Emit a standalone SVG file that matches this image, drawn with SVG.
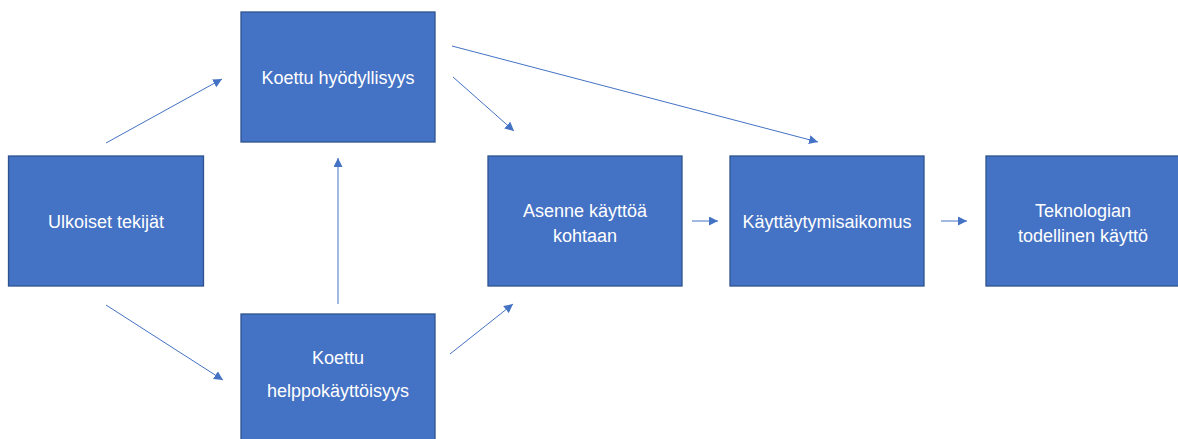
<svg xmlns="http://www.w3.org/2000/svg" width="1178" height="439" viewBox="0 0 1178 439">
  <style>
    .box { fill: #4472C4; stroke: #2F528F; stroke-width: 1.3; }
    .lbl { fill: #FFFFFF; font-family: "Liberation Sans", Arial, sans-serif; font-size: 18px; text-anchor: middle; }
    .edge { fill: none; stroke: #4472C4; stroke-width: 1; marker-end: url(#arrow); }
  </style>
  <defs>
    <marker id="arrow" viewBox="0 0 10 10" refX="10" refY="5" markerWidth="9" markerHeight="9" markerUnits="userSpaceOnUse" orient="auto">
      <path d="M0,0 L10,5 L0,10 z" fill="#4472C4"/>
    </marker>
  </defs>

  <rect width="1178" height="439" fill="#FFFFFF"/>

  <g id="connectors">
    <line class="edge" x1="106" y1="143" x2="222" y2="79"/>
    <line class="edge" x1="106" y1="305" x2="223" y2="380"/>
    <line class="edge" x1="338" y1="304" x2="338" y2="158"/>
    <line class="edge" x1="453" y1="77" x2="514" y2="131"/>
    <line class="edge" x1="452" y1="46" x2="818" y2="142"/>
    <line class="edge" x1="450" y1="354" x2="513" y2="304"/>
    <line class="edge" x1="692" y1="221" x2="718" y2="221"/>
    <line class="edge" x1="941" y1="221" x2="967" y2="221"/>
  </g>

  <g id="ulkoiset">
    <rect class="box" x="8.5" y="156" width="195" height="130"/>
    <text class="lbl" x="106" y="228">Ulkoiset tekijät</text>
  </g>

  <g id="hyodyllisyys">
    <rect class="box" x="241" y="12" width="194" height="130"/>
    <text class="lbl" x="338" y="84">Koettu hyödyllisyys</text>
  </g>

  <g id="helppokayttoisyys">
    <rect class="box" x="241" y="314" width="194" height="130"/>
    <text class="lbl" x="338" y="364">Koettu</text>
    <text class="lbl" x="338" y="397">helppokäyttöisyys</text>
  </g>

  <g id="asenne">
    <rect class="box" x="488" y="156" width="194" height="130"/>
    <text class="lbl" x="585" y="217">Asenne käyttöä</text>
    <text class="lbl" x="585" y="242">kohtaan</text>
  </g>

  <g id="aikomus">
    <rect class="box" x="730" y="156" width="194" height="130"/>
    <text class="lbl" x="827" y="228">Käyttäytymisaikomus</text>
  </g>

  <g id="kaytto">
    <rect class="box" x="986" y="156" width="194" height="130"/>
    <text class="lbl" x="1083" y="217">Teknologian</text>
    <text class="lbl" x="1083" y="242">todellinen käyttö</text>
  </g>
</svg>
